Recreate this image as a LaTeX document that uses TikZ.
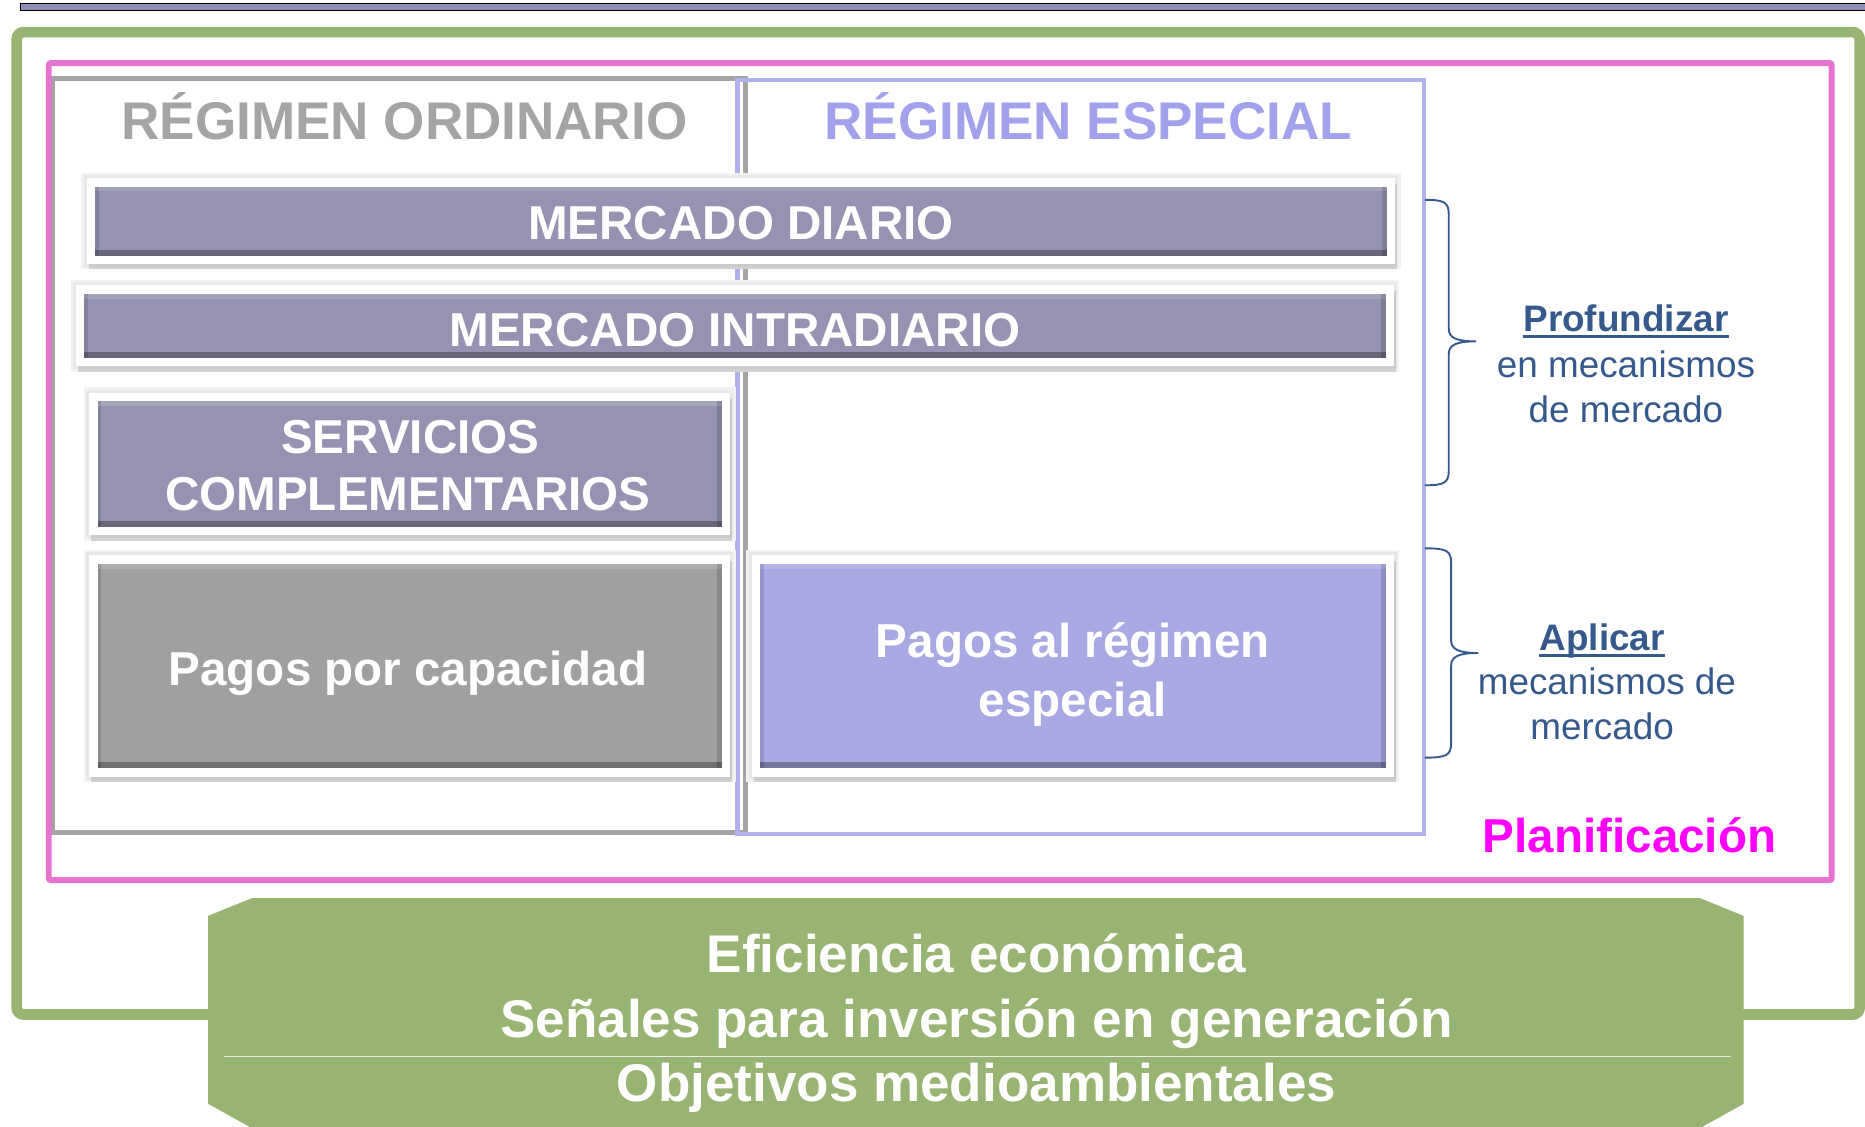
\documentclass[tikz,border=0pt]{standalone}
\usepackage{fontspec}
\setmainfont{Liberation Sans}
\usetikzlibrary{shadows}
\definecolor{grn}{HTML}{98B473}
\definecolor{pnk}{HTML}{E872CF}
\definecolor{gry}{HTML}{A4A4A4}
\definecolor{lav}{HTML}{B0B0EA}
\definecolor{barc}{HTML}{9593B1}
\definecolor{capc}{HTML}{A0A0A0}
\definecolor{espc}{HTML}{A8A8E3}
\definecolor{navy}{HTML}{36598C}
\definecolor{mag}{HTML}{FF00FF}
\definecolor{bandc}{HTML}{8E8EB6}
\newcommand\fntA{\fontsize{44.6}{54}\selectfont\bfseries}
\newcommand\fntB{\fontsize{40}{48}\selectfont\bfseries}
\newcommand\fntC{\fontsize{31}{38}\selectfont}
\begin{document}
\begin{tikzpicture}[x=1pt,y=-1pt,
  tile/.style={fill=white, draw=none, inner sep=0pt,
    preaction={draw=black!5, line width=9pt},
    preaction={draw=black!9, line width=5pt},
    drop shadow={opacity=0.28, shadow xshift=1.5pt, shadow yshift=-4.5pt},
    path picture={
      \fill[#1] ([shift={(7pt,7pt)}]path picture bounding box.south west) rectangle ([shift={(-7pt,-7pt)}]path picture bounding box.north east);
      \fill[black,opacity=0.3] ([shift={(7pt,7pt)}]path picture bounding box.south west) rectangle ([shift={(-7pt,12pt)}]path picture bounding box.south east);
      \fill[white,opacity=0.15] ([shift={(7pt,-11pt)}]path picture bounding box.north west) rectangle ([shift={(-7pt,-7pt)}]path picture bounding box.north east);
      \fill[black,opacity=0.15] ([shift={(-11pt,7pt)}]path picture bounding box.south east) rectangle ([shift={(-7pt,-7pt)}]path picture bounding box.north east);
      \fill[black,opacity=0.12] ([shift={(7pt,7pt)}]path picture bounding box.south west) rectangle ([shift={(10pt,-7pt)}]path picture bounding box.north west);
    }},
  tiletext/.style={text=white, font=\fntB, inner sep=0pt, anchor=base},
  side/.style={text=navy, inner sep=0pt, anchor=base, font=\fntC},
  brace/.style={draw=navy, line width=1.6pt},
  goal/.style={text=white, inner sep=0pt, anchor=base, font=\fntA}
]
\useasboundingbox (0,0) rectangle (1568,947);
% top band
\draw[black, line width=1.2pt, fill=bandc] (17,3) rectangle (1575,9);
% green frame
\draw[grn, line width=9pt, rounded corners=6pt] (14,27) rectangle (1563.5,853);
% columns
\draw[gry, line width=4pt] (44,66) rectangle (627,700);
\draw[lav, line width=3.5pt] (620,67) rectangle (1197,701);
% pink frame
\draw[pnk, line width=5pt, rounded corners=2pt] (41,53) rectangle (1540,740);
% headers
\node[text=gry, font=\fntA, inner sep=0pt, anchor=base] (hord) at (340,117) {RÉGIMEN ORDINARIO};
\node[text=lav!92!blue, font=\fntA, inner sep=0pt, anchor=base] (hesp) at (915,117) {RÉGIMEN ESPECIAL};
% tiles
\node[tile=barc, minimum width=1100pt, minimum height=72pt] (md) at (623,186) {};
\node[tile=barc, minimum width=1108pt, minimum height=68pt] (mi) at (618,274) {};
\node[tile=barc, minimum width=539pt, minimum height=120pt] (sc) at (344.5,390) {};
\node[tile=capc, minimum width=539pt, minimum height=186pt] (pc) at (344.5,560) {};
\node[tile=espc, minimum width=540pt, minimum height=186pt] (pe) at (902,560) {};
% tile texts
\node[tiletext] (mdt) at (623,201) {MERCADO DIARIO};
\node[tiletext] (mit) at (618,291) {MERCADO INTRADIARIO};
\node[tiletext] (sct1) at (345,381) {SERVICIOS};
\node[tiletext] (sct2) at (343,429) {COMPLEMENTARIOS};
\node[tiletext] (pct) at (343,576) {Pagos por capacidad};
\node[tiletext] (pet1) at (902,553) {Pagos al régimen};
\node[tiletext] (pet2) at (902,602) {especial};
% braces
\coordinate (b1t) at (1198,168);
\coordinate (b1b) at (1198,408);
\coordinate (b2t) at (1198,461);
\coordinate (b2b) at (1198,637);
\draw[brace] (b1t) .. controls (1214,168) and (1218,170) .. (1218,180) -- (1218,276)
  .. controls (1218,284) and (1224,287) .. (1241,287)
  .. controls (1224,287) and (1218,290) .. (1218,298) -- (1218,396)
  .. controls (1218,406) and (1214,408) .. (b1b);
\draw[brace] (b2t) .. controls (1216,461) and (1220,463) .. (1220,473) -- (1220,538)
  .. controls (1220,546) and (1226,549) .. (1243,549)
  .. controls (1226,549) and (1220,552) .. (1220,560) -- (1220,625)
  .. controls (1220,635) and (1216,637) .. (b2b);
% side texts
\node[side, font=\fntC\bfseries] (prof) at (1367,279) {Profundizar};
\draw[navy, line width=2.4pt] ([yshift=-4pt]prof.base west) -- ([yshift=-4pt]prof.base east);
\node[side] (prof2) at (1367,317) {en mecanismos};
\node[side] (prof3) at (1367,355) {de mercado};
\node[side, font=\fntC\bfseries] (apl) at (1347,547) {Aplicar};
\draw[navy, line width=2.4pt] ([yshift=-4pt]apl.base west) -- ([yshift=-4pt]apl.base east);
\node[side] (apl2) at (1351,584) {mecanismos de};
\node[side] (apl3) at (1347,622) {mercado};
% planificacion
\node[text=mag, font=\fntB, inner sep=0pt, anchor=base] (plan) at (1370,717) {Planificación};
% green goals shape
\fill[grn] (212,755) -- (1429,755) -- (1466,770) -- (1466,928) -- (1430,948) -- (211,948) -- (175,928) -- (175,770) -- cycle;
\draw[white, opacity=0.75, line width=0.9pt] (188,888) -- (1455,888);
\node[goal] (g1) at (821,818) {Eficiencia económica};
\node[goal] (g2) at (821,872) {Señales para inversión en generación};
\node[goal] (g3) at (821,926) {Objetivos medioambientales};
\end{tikzpicture}
\end{document}
